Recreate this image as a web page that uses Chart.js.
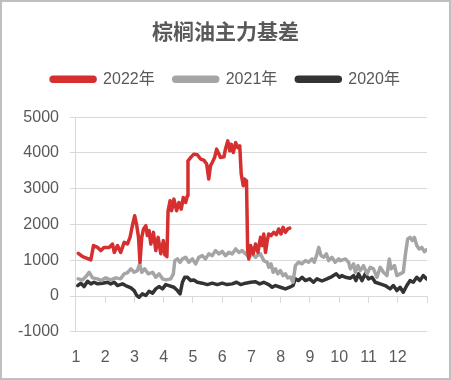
<!DOCTYPE html>
<html>
<head>
<meta charset="utf-8">
<script src="https://cdn.jsdelivr.net/npm/chart.js@4.4.0/dist/chart.umd.min.js"></script>
<style>
html, body { margin: 0; padding: 0; background: #fff; }
#box { width: 451px; height: 380px; box-sizing: border-box; border: 2px solid #bfbfbf; }
canvas { display: block; }
</style>
</head>
<body>
<div id="box"><canvas id="basisChart" width="447" height="376"></canvas></div>
<script>
// months on the x axis (1..12), the 13 is only the right edge
const monthLabels = ['1', '2', '3', '4', '5', '6', '7', '8', '9', '10', '11', '12'];
const yTicks = [-1000, 0, 1000, 2000, 3000, 4000, 5000];

// 2022: position in the year (month + fraction) and basis value
const x2022 = [1.08,1.23,1.51,1.60,1.74,1.85,1.96,2.14,2.25,2.31,2.42,2.53,2.65,2.76,2.85,2.93,3.01,3.08,3.14,3.19,3.25,3.31,3.39,3.44,3.50,3.56,3.65,3.73,3.81,3.90,3.99,4.04,4.08,4.11,4.15,4.22,4.27,4.35,4.44,4.52,4.60,4.67,4.75,4.81,4.83,4.94,5.03,5.15,5.26,5.37,5.47,5.54,5.60,5.66,5.74,5.81,5.89,5.94,6.06,6.11,6.19,6.26,6.31,6.38,6.46,6.53,6.60,6.65,6.72,6.76,6.83,6.87,6.91,6.97,7.06,7.14,7.22,7.31,7.37,7.42,7.48,7.54,7.59,7.67,7.76,7.85,7.93,8.01,8.08,8.16,8.24,8.31];
const y2022 = [1194,1100,1010,1410,1360,1270,1360,1360,1455,1220,1410,1220,1500,1455,1640,1967,2245,1967,1640,943,1640,1875,1967,1690,1830,1455,1780,1270,1640,1180,1550,1150,1450,1100,2385,2665,2385,2710,2385,2617,2430,2757,2617,2804,3780,3890,3967,3950,3830,3800,3690,3270,3640,3733,3872,4107,3967,3872,3890,4107,4338,4060,4245,4012,4290,4150,4200,3410,3083,3270,3222,1270,1038,1410,1178,1456,1220,1640,1410,1735,1220,1550,1735,1690,1780,1716,1875,1735,1920,1780,1875,1900];

// 2021
const x2021 = [1.08,1.23,1.34,1.45,1.57,1.74,1.85,2.02,2.19,2.36,2.53,2.65,2.76,2.88,2.99,3.10,3.18,3.25,3.35,3.47,3.62,3.73,3.84,3.96,4.07,4.24,4.33,4.38,4.47,4.56,4.64,4.75,4.86,4.98,5.09,5.20,5.32,5.43,5.54,5.66,5.77,5.89,6.00,6.11,6.23,6.34,6.46,6.57,6.68,6.80,6.91,7.02,7.14,7.19,7.31,7.42,7.54,7.59,7.67,7.74,7.82,7.90,7.99,8.08,8.16,8.24,8.33,8.42,8.50,8.61,8.73,8.84,8.95,9.07,9.15,9.24,9.30,9.38,9.47,9.56,9.64,9.75,9.86,9.98,10.04,10.21,10.32,10.38,10.49,10.55,10.64,10.72,10.83,10.95,11.06,11.17,11.29,11.40,11.51,11.63,11.71,11.77,11.89,11.97,12.08,12.19,12.27,12.34,12.42,12.50,12.57,12.65,12.73,12.82,12.91,12.99];
const y2021 = [480,452,544,664,508,480,432,508,452,508,480,620,650,760,664,710,900,664,760,620,664,525,620,480,452,480,620,990,1038,943,1038,1083,943,1038,898,1083,1130,1038,1178,1130,1270,1178,1250,1130,1220,1178,1317,1220,1270,1178,1083,1178,1083,1130,1178,990,943,803,900,664,760,620,710,572,620,508,530,385,850,943,900,990,943,1038,943,1178,1360,1130,1083,1178,990,1083,943,1038,990,1038,943,760,898,664,850,710,850,620,803,760,525,803,664,572,1038,760,850,572,620,664,1220,1596,1640,1550,1640,1410,1317,1360,1240,1297];

// 2020
const x2020 = [1.06,1.17,1.28,1.40,1.51,1.62,1.74,1.91,2.08,2.19,2.31,2.42,2.59,2.70,2.88,2.99,3.08,3.16,3.27,3.39,3.50,3.62,3.73,3.84,3.96,4.07,4.18,4.35,4.47,4.56,4.64,4.72,4.81,4.92,5.03,5.15,5.32,5.49,5.66,5.83,6.00,6.17,6.34,6.49,6.63,6.80,6.97,7.14,7.28,7.42,7.59,7.71,7.82,7.99,8.16,8.31,8.42,8.50,8.61,8.73,8.84,8.99,9.12,9.24,9.41,9.58,9.75,9.90,10.01,10.09,10.21,10.38,10.49,10.57,10.66,10.78,10.89,11.00,11.12,11.23,11.40,11.57,11.74,11.85,11.97,12.08,12.19,12.31,12.42,12.53,12.65,12.76,12.87,12.99];
const y2020 = [293,357,265,413,340,385,340,357,385,340,385,293,340,293,229,153,14,-33,61,14,134,80,200,265,200,320,293,246,153,61,385,525,525,432,450,385,360,320,360,320,360,320,340,385,320,360,385,400,340,385,320,246,293,246,200,246,293,480,432,525,432,480,385,480,420,480,544,620,525,572,525,497,572,432,620,432,620,480,525,385,340,293,200,293,153,246,106,293,432,385,525,432,572,480];

function toPoints(xs, ys) {
    return xs.map((x, i) => ({ x: x, y: ys[i] }));
}

const textColor = '#595959';
const gridColor = '#d9d9d9';
const tickFont = { family: "'Liberation Sans', 'Noto Sans CJK SC', sans-serif", size: 16 };

// push the plot area down a bit below the legend
const legendGap = {
    id: 'legendGap',
    beforeInit(chart) {
        const fit = chart.legend.fit;
        chart.legend.fit = function () {
            fit.call(this);
            this.height += 20;
        };
    }
};

const ctx = document.getElementById('basisChart').getContext('2d');
const basisChart = new Chart(ctx, {
    type: 'line',
    data: {
        datasets: [
            {
                label: '2022年',
                data: toPoints(x2022, y2022),
                borderColor: '#d62f2f',
                backgroundColor: '#d62f2f'
            },
            {
                label: '2021年',
                data: toPoints(x2021, y2021),
                borderColor: '#a5a5a5',
                backgroundColor: '#a5a5a5'
            },
            {
                label: '2020年',
                data: toPoints(x2020, y2020),
                borderColor: '#333333',
                backgroundColor: '#333333'
            }
        ]
    },
    options: {
        responsive: false,
        animation: false,
        layout: { padding: { left: 5, right: 5, top: 0, bottom: 3 } },
        elements: {
            point: { radius: 0 },
            line: { borderWidth: 3.5, tension: 0, borderJoinStyle: 'round', borderCapStyle: 'round' }
        },
        plugins: {
            title: {
                display: true,
                text: '棕榈油主力基差',
                color: textColor,
                font: { family: "'Noto Sans CJK SC', sans-serif", size: 21, weight: 'bold' },
                padding: { top: 16, bottom: 9 }
            },
            legend: {
                labels: {
                    color: textColor,
                    font: tickFont,
                    boxWidth: 44,
                    boxHeight: 4,
                    padding: 19,
                    useBorderRadius: true,
                    borderRadius: 2
                }
            },
            tooltip: { enabled: false }
        },
        scales: {
            x: {
                type: 'linear',
                min: 1,
                max: 13,
                grid: { display: false },
                border: { display: false },
                ticks: {
                    stepSize: 1,
                    color: textColor,
                    font: tickFont,
                    padding: 8,
                    maxRotation: 0,
                    callback: (v) => monthLabels[v - 1] || ''
                }
            },
            // zero line with the month tick marks
            x0: {
                type: 'linear',
                axis: 'x',
                position: { y: 0 },
                min: 1,
                max: 13,
                grid: { drawOnChartArea: false, drawTicks: true, tickLength: 6, color: gridColor },
                border: { display: true, color: gridColor },
                ticks: { display: false, stepSize: 1 }
            },
            y: {
                min: yTicks[0],
                max: yTicks[yTicks.length - 1],
                afterBuildTicks: (scale) => { scale.ticks = yTicks.map(v => ({ value: v })); },
                grid: { color: gridColor, tickLength: 6, lineWidth: 1 },
                border: { display: true, color: gridColor },
                ticks: { color: textColor, font: tickFont, padding: 11, callback: (v) => String(v) }
            },
            // empty right-hand strip, keeps the plot off the right edge
            yRight: {
                axis: 'y',
                position: 'right',
                grid: { display: false },
                border: { display: false },
                ticks: { display: false },
                afterFit: (scale) => { scale.width = 17; }
            }
        }
    },
    plugins: [legendGap]
});
</script>
</body>
</html>
